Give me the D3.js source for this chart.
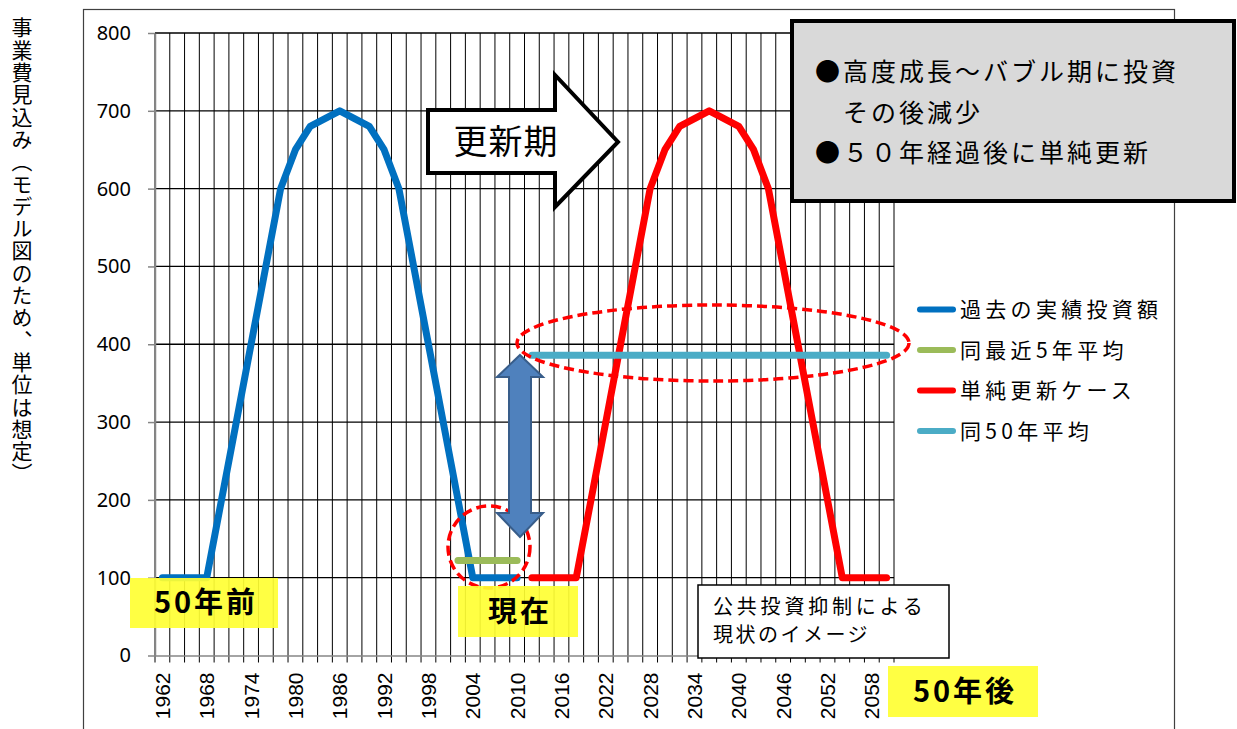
<!DOCTYPE html>
<html>
<head>
<meta charset="utf-8">
<script src="https://cdn.jsdelivr.net/npm/d3@7"></script>
<style>
  body { margin: 0; background: #fff; }
  svg { display: block; font-family: "Noto Sans CJK JP", sans-serif; }
</style>
</head>
<body>
<svg id="chart" width="1237" height="729"></svg>
<script>
// categories (every 2 years)
const years = [1962,1964,1966,1968,1970,1972,1974,1976,1978,1980,1982,1984,1986,1988,1990,1992,1994,1996,1998,2000,
               2002,2004,2006,2008,2010,2012,2014,2016,2018,2020,2022,2024,2026,2028,2030,2032,2034,2036,2038,2040,
               2042,2044,2046,2048,2050,2052,2054,2056,2058,2060];
const labelYears = [1962,1968,1974,1980,1986,1992,1998,2004,2010,2016,2022,2028,2034,2040,2046,2052,2058];
const yTicks = [0,100,200,300,400,500,600,700,800];

// 過去の実績投資額 (1962-2010)
const pastYears = [1962,1964,1966,1968,1970,1972,1974,1976,1978,1980,1982,1984,1986,1988,1990,1992,1994,1996,1998,2000,2002,2004,2006,2008,2010];
const pastValues = [100,100,100,100,200,300,400,500,600,650,680,690,700,690,680,650,600,500,400,300,200,100,100,100,100];
// 同最近5年平均
const recentYears = [2002,2004,2006,2008,2010];
const recentValues = [122,122,122,122,122];
// 単純更新ケース (2012-2060)
const renewYears = [2012,2014,2016,2018,2020,2022,2024,2026,2028,2030,2032,2034,2036,2038,2040,2042,2044,2046,2048,2050,2052,2054,2056,2058,2060];
const renewValues = [100,100,100,100,200,300,400,500,600,650,680,690,700,690,680,650,600,500,400,300,200,100,100,100,100];
// 同50年平均
const avgValues = [386,386,386,386,386,386,386,386,386,386,386,386,386,386,386,386,386,386,386,386,386,386,386,386,386];

const seriesNames = ['過去の実績投資額','同最近5年平均','単純更新ケース','同50年平均'];
const seriesColors = ['#0070c0','#9bbb59','#ff0000','#4bacc6'];

const series = [
  pastYears.map((yr, i) => ({ year: yr, value: pastValues[i] })),
  recentYears.map((yr, i) => ({ year: yr, value: recentValues[i] })),
  renewYears.map((yr, i) => ({ year: yr, value: renewValues[i] })),
  renewYears.map((yr, i) => ({ year: yr, value: avgValues[i] }))
];

const plotLeft = 155, plotRight = 894, plotTop = 33, plotBottom = 655.5;

const svg = d3.select('#chart');

const x = d3.scaleBand().domain(years).range([plotLeft, plotRight]);
const xc = d => x(d) + x.bandwidth() / 2;
const y = d3.scaleLinear().domain([0, 800]).range([plotBottom, plotTop]);

// chart frame
svg.append('rect')
  .attr('x', 83.5).attr('y', 9.5)
  .attr('width', 1091).attr('height', 740)
  .attr('fill', 'none').attr('stroke', '#404040').attr('stroke-width', 1.2);

// vertical grid lines (category boundaries) + tick marks
const bounds = years.map(d => x(d)).concat([plotRight]);
svg.append('g')
  .selectAll('line')
  .data(bounds)
  .enter()
  .append('line')
  .attr('x1', d => d).attr('x2', d => d)
  .attr('y1', y(800)).attr('y2', plotBottom + 7)
  .attr('stroke', '#000').attr('stroke-width', 1);

// horizontal grid lines
svg.append('g')
  .selectAll('line')
  .data(yTicks.filter(d => d > 0))
  .enter()
  .append('line')
  .attr('x1', plotLeft).attr('x2', plotRight)
  .attr('y1', d => y(d)).attr('y2', d => y(d))
  .attr('stroke', '#000').attr('stroke-width', 1.3);

// y axis
const yAxis = d3.axisLeft(y).tickValues(yTicks).tickSize(7).tickSizeOuter(0).tickPadding(17);
const gy = svg.append('g')
  .attr('transform', 'translate(' + plotLeft + ',0)')
  .call(yAxis);
gy.select('.domain').attr('stroke', '#868686').attr('stroke-width', 1.5);
gy.selectAll('.tick line').attr('stroke', '#868686').attr('stroke-width', 1.5);
gy.selectAll('.tick text')
  .attr('fill', '#000')
  .style('font-family', '"Noto Sans", sans-serif')
  .style('font-size', '20px');

// x axis
const xAxis = d3.axisBottom(x).tickValues(labelYears).tickSize(0).tickSizeOuter(0);
const gx = svg.append('g')
  .attr('transform', 'translate(0,' + plotBottom + ')')
  .call(xAxis);
gx.select('.domain').attr('stroke', '#868686').attr('stroke-width', 1.5);
gx.selectAll('.tick text')
  .attr('fill', '#000')
  .attr('transform', 'rotate(-90)')
  .attr('x', -17).attr('y', 0).attr('dy', '0.36em')
  .attr('text-anchor', 'end')
  .style('font-family', '"Liberation Sans", Arial, sans-serif')
  .style('font-size', '21px');

// y axis title (vertical)
svg.append('text')
  .attr('x', 22).attr('y', 17)
  .style('writing-mode', 'vertical-rl')
  .style('text-orientation', 'mixed')
  .style('font-size', '21px')
  .style('letter-spacing', '1.3px')
  .attr('fill', '#000')
  .text('事業費見込み（モデル図のため、単位は想定）');

// series lines
const line = d3.line().x(d => xc(d.year)).y(d => y(d.value));
svg.append('g')
  .selectAll('path')
  .data(series)
  .enter()
  .append('path')
  .attr('d', line)
  .attr('fill', 'none')
  .attr('stroke', (d, i) => seriesColors[i])
  .attr('stroke-width', 7)
  .attr('stroke-linejoin', 'round')
  .attr('stroke-linecap', 'round');

// dashed ellipses
svg.append('ellipse')
  .attr('cx', 713).attr('cy', 343).attr('rx', 196).attr('ry', 38)
  .attr('fill', 'none').attr('stroke', '#ff0000').attr('stroke-width', 3.5)
  .attr('stroke-dasharray', '10,5');
svg.append('ellipse')
  .attr('cx', 489).attr('cy', 547).attr('rx', 41).attr('ry', 41)
  .attr('fill', 'none').attr('stroke', '#ff0000').attr('stroke-width', 3.5)
  .attr('stroke-dasharray', '10,5');

// double-headed arrow
const dbl = [[520,355],[543,377],[531,377],[531,513],[543,513],[520,537],[497,513],[509,513],[509,377],[497,377]];
svg.append('path')
  .attr('d', 'M' + dbl.join('L') + 'Z')
  .attr('fill', '#4f81bd').attr('stroke', '#385d8a').attr('stroke-width', 2);

// 更新期 arrow
const arr = [[428,110],[555,110],[555,75],[618,142],[555,207],[555,173],[428,173]];
svg.append('path')
  .attr('d', 'M' + arr.join('L') + 'Z')
  .attr('fill', '#fff').attr('stroke', '#000').attr('stroke-width', 4)
  .attr('stroke-linejoin', 'miter');
svg.append('text')
  .attr('x', 506).attr('y', 142).attr('dy', '0.36em')
  .attr('text-anchor', 'middle')
  .style('font-size', '34px')
  .style('letter-spacing', '1px')
  .text('更新期');

// yellow labels
const tags = [
  { text: '50年前', x: 130, y: 578, w: 148, h: 50 },
  { text: '現在', x: 458, y: 586, w: 120, h: 51 },
  { text: '50年後', x: 888, y: 666, w: 150, h: 51 }
];
const tg = svg.append('g').selectAll('g').data(tags).enter().append('g');
tg.append('rect')
  .attr('x', d => d.x).attr('y', d => d.y)
  .attr('width', d => d.w).attr('height', d => d.h)
  .attr('fill', '#ffff33').attr('fill-opacity', 0.92);
tg.append('text')
  .attr('x', d => d.x + d.w / 2 + 2).attr('y', d => d.y + d.h / 2).attr('dy', '0.36em')
  .attr('text-anchor', 'middle')
  .style('font-size', '29px').style('font-weight', 700)
  .style('letter-spacing', '3px')
  .text(d => d.text);

// note box
svg.append('rect')
  .attr('x', 698).attr('y', 585).attr('width', 251).attr('height', 73)
  .attr('fill', '#fff').attr('stroke', '#000').attr('stroke-width', 1.5);
svg.append('text')
  .attr('x', 713).attr('y', 607).attr('dy', '0.36em')
  .style('font-size', '20px').style('letter-spacing', '3.8px')
  .text('公共投資抑制による');
svg.append('text')
  .attr('x', 713).attr('y', 635).attr('dy', '0.36em')
  .style('font-size', '20px').style('letter-spacing', '2.5px')
  .text('現状のイメージ');

// gray info box
svg.append('rect')
  .attr('x', 792).attr('y', 21).attr('width', 442).attr('height', 180)
  .attr('fill', '#d9d9d9').attr('stroke', '#000').attr('stroke-width', 4);
const infoLines = [
  { text: '●高度成長～バブル期に投資', x: 815, y: 72 },
  { text: 'その後減少', x: 843, y: 113 },
  { text: '●５０年経過後に単純更新', x: 815, y: 153 }
];
svg.append('g').selectAll('text').data(infoLines).enter().append('text')
  .attr('x', d => d.x).attr('y', d => d.y).attr('dy', '0.36em')
  .style('font-size', '25px').style('letter-spacing', '3px')
  .text(d => d.text);

// legend
const lg = svg.append('g').selectAll('g').data(seriesNames).enter().append('g')
  .attr('transform', (d, i) => 'translate(918,' + (309.5 + i * 40.5) + ')');
lg.append('line')
  .attr('x1', 2).attr('x2', 35)
  .attr('stroke', (d, i) => seriesColors[i])
  .attr('stroke-width', 6).attr('stroke-linecap', 'round');
lg.append('text')
  .attr('x', 42).attr('dy', '0.36em')
  .style('font-size', '21px').style('letter-spacing', '4.3px')
  .text(d => d);
</script>
</body>
</html>
